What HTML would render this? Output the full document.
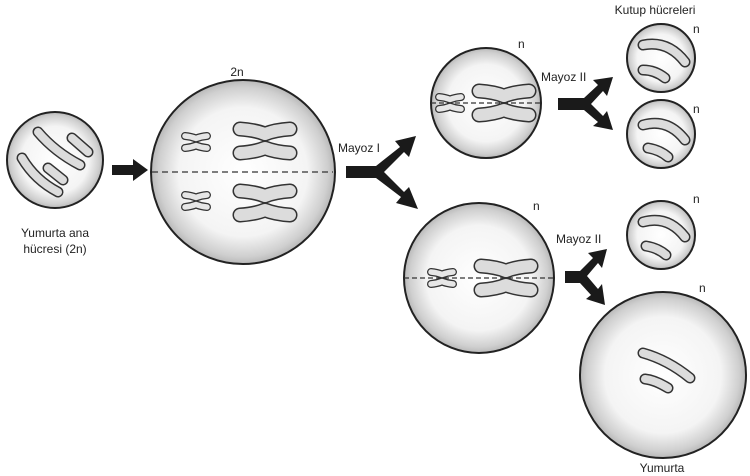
<!DOCTYPE html>
<html><head><meta charset="utf-8"><style>
html,body{margin:0;padding:0;background:#fff;}
svg{display:block}
text{font-family:"Liberation Sans",sans-serif;font-size:12px;fill:#222}
</style></head><body>
<svg width="750" height="476" viewBox="0 0 750 476" xmlns="http://www.w3.org/2000/svg">
<defs>
<radialGradient id="g" cx="50%" cy="50%" r="50%">
<stop offset="0" stop-color="#fff"/><stop offset="0.7" stop-color="#f4f4f4"/><stop offset="0.92" stop-color="#cfcfcf"/><stop offset="1" stop-color="#b8b8b8"/>
</radialGradient>
<g id="xbigo" fill="none" stroke-linecap="round" stroke-linejoin="round">
<path d="M-25,-12 Q-10,-11 0,-7 Q10,-11 25,-12"/>
<path d="M-25,12 Q-10,11 0,7 Q10,11 25,12"/>
</g>
<g id="xbig">
<use href="#xbigo" stroke="#333" stroke-width="15"/>
<use href="#xbigo" stroke="#dcdcdc" stroke-width="12"/>
</g>
<g id="xsmo" fill="none" stroke-linecap="round" stroke-linejoin="round">
<path d="M-11,-6 Q-5,-5.5 0,-3.5 Q5,-5.5 11,-6"/>
<path d="M-11,6 Q-5,5.5 0,3.5 Q5,5.5 11,6"/>
</g>
<g id="xsm">
<use href="#xsmo" stroke="#333" stroke-width="8"/>
<use href="#xsmo" stroke="#e6e6e6" stroke-width="5.5"/>
</g>
</defs>
<g stroke="#222" stroke-width="2">
<circle cx="55" cy="160" r="48" fill="url(#g)"/>
<circle cx="243" cy="172" r="92" fill="url(#g)"/>
<circle cx="486" cy="103" r="55" fill="url(#g)"/>
<circle cx="479" cy="278" r="75" fill="url(#g)"/>
<circle cx="661" cy="58" r="34" fill="url(#g)"/>
<circle cx="661" cy="134" r="34" fill="url(#g)"/>
<circle cx="661" cy="235" r="34" fill="url(#g)"/>
<circle cx="663" cy="375" r="83" fill="url(#g)"/>
</g>
<g stroke-linecap="round" fill="none">
<g stroke="#333" stroke-width="11"><path d="M22,158 Q35,180 58,192"/><path d="M38,132 Q55,152 80,165"/><path d="M48,168 L63,180"/><path d="M72,138 L88,152"/></g>
<g stroke="#dcdcdc" stroke-width="8"><path d="M22,158 Q35,180 58,192"/><path d="M38,132 Q55,152 80,165"/><path d="M48,168 L63,180"/><path d="M72,138 L88,152"/></g>
</g>
<use href="#xsm" x="196" y="142"/>
<use href="#xbig" x="265" y="141"/>
<use href="#xsm" x="196" y="201"/>
<use href="#xbig" x="265" y="203"/>
<line x1="152" y1="172" x2="333" y2="172" stroke="#333" stroke-width="1.3" stroke-dasharray="6,4"/>
<use href="#xsm" x="450" y="103"/>
<use href="#xbig" x="504" y="103"/>
<line x1="431" y1="103" x2="541" y2="103" stroke="#333" stroke-width="1.2" stroke-dasharray="5,3"/>
<use href="#xsm" x="442" y="278"/>
<use href="#xbig" x="506" y="278"/>
<line x1="404" y1="278" x2="554" y2="278" stroke="#333" stroke-width="1.2" stroke-dasharray="5,3"/>
<g stroke-linecap="round" fill="none">
<g stroke="#333" stroke-width="11"><path d="M643,45 Q668,40 685,62"/><path d="M643,70 Q655,70 665,78"/>
<path d="M643,125 Q668,118 685,140"/><path d="M648,148 Q660,150 668,157"/>
<path d="M643,222 Q668,215 685,237"/><path d="M646,246 Q658,248 666,255"/>
<path d="M643,353 Q668,360 690,378"/><path d="M645,379 Q655,380 668,388"/></g>
<g stroke="#dcdcdc" stroke-width="8"><path d="M643,45 Q668,40 685,62"/><path d="M643,70 Q655,70 665,78"/>
<path d="M643,125 Q668,118 685,140"/><path d="M648,148 Q660,150 668,157"/>
<path d="M643,222 Q668,215 685,237"/><path d="M646,246 Q658,248 666,255"/>
<path d="M643,353 Q668,360 690,378"/><path d="M645,379 Q655,380 668,388"/></g>
</g>
<g fill="#1a1a1a">
<path d="M112,165 L133,165 L133,159 L148,170 L133,181 L133,175 L112,175Z"/>
<path d="M346,166 L376,166 L400,147 L395,141 L416,136 L409,157 L404,152 L384,172 L404,192 L409,187 L418,209 L396,203 L401,197 L376,178 L346,178Z"/>
<path d="M558,98 L584,98 L598,85 L593,80 L613,77 L607,96 L603,91 L591,104 L603,116 L607,111 L613,130 L593,126 L598,122 L584,110 L558,110Z"/>
<path d="M565,271 L580,271 L593,258 L588,253 L607,249 L602,268 L598,263 L587,276 L598,289 L602,284 L605,305 L586,299 L591,295 L580,283 L565,283Z"/>
</g>
<text x="237" y="76" text-anchor="middle">2n</text>
<text x="55" y="237" text-anchor="middle">Yumurta ana</text>
<text x="55" y="253" text-anchor="middle">hücresi (2n)</text>
<text x="338" y="152">Mayoz I</text>
<text x="518" y="48" font-size="11">n</text>
<text x="541" y="81">Mayoz II</text>
<text x="533" y="210" font-size="11">n</text>
<text x="556" y="243">Mayoz II</text>
<text x="655" y="14" text-anchor="middle">Kutup hücreleri</text>
<text x="693" y="33" font-size="11">n</text>
<text x="693" y="113" font-size="11">n</text>
<text x="693" y="203" font-size="11">n</text>
<text x="699" y="292" font-size="11">n</text>
<text x="662" y="472" text-anchor="middle">Yumurta</text>
</svg>
</body></html>
